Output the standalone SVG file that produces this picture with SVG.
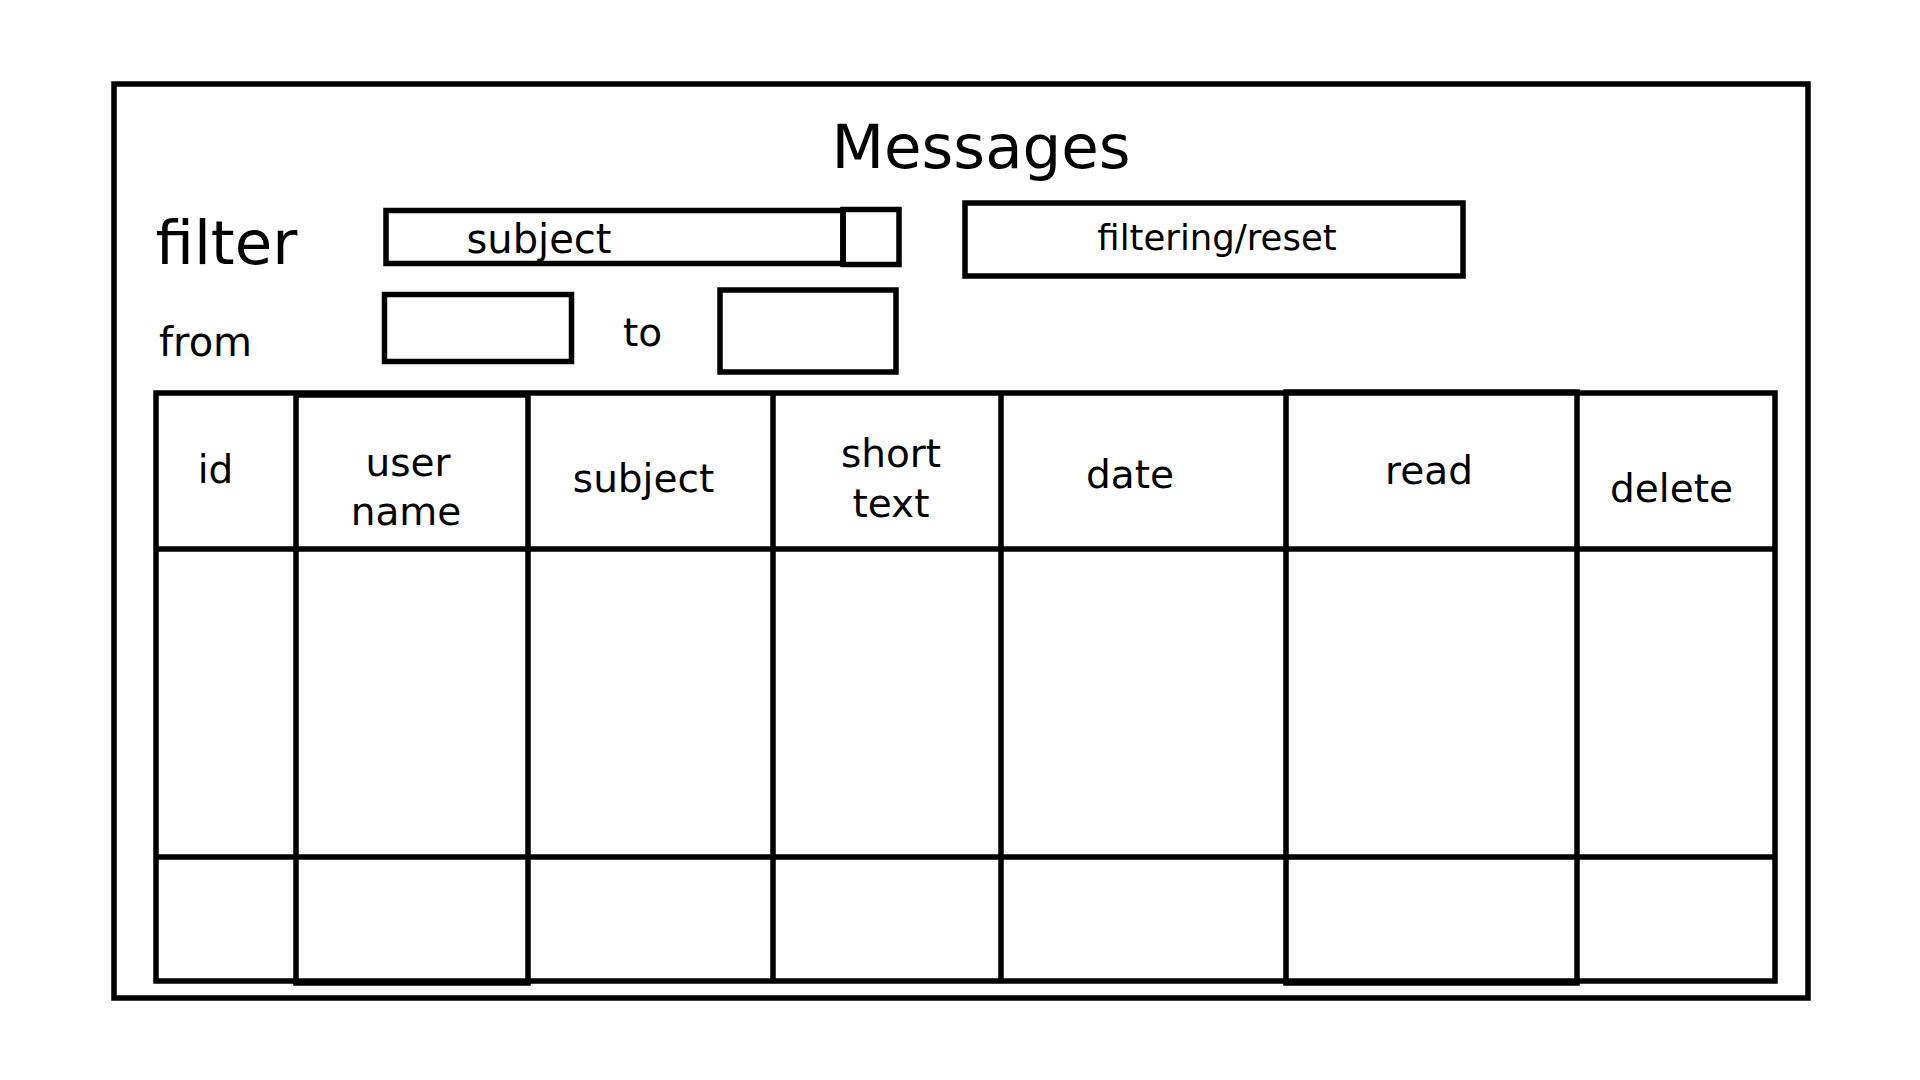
<svg xmlns="http://www.w3.org/2000/svg" width="1920" height="1080" viewBox="0 0 1920 1080">
<style>
.box{fill:none;stroke:#000;stroke-width:5.5}
.ln{stroke:#000;stroke-width:5.5;fill:none}
text{font-family:"DejaVu Sans","Liberation Sans",sans-serif;fill:#000}
.lbl{font-size:39px}
.c{text-anchor:middle}
</style>
<rect width="1920" height="1080" fill="#fff"/>
<g id="window">
<rect class="box" x="114" y="84" width="1694" height="914"/>
</g>
<g id="title">
<text x="981" y="168" class="c" font-size="61">Messages</text>
</g>
<g id="filter-label">
<text x="155.5" y="264" font-size="61">filter</text>
</g>
<g id="subject-input">
<rect class="box" x="386" y="210.5" width="457" height="53"/>
<rect class="box" x="843" y="209.5" width="56" height="55"/>
<text x="466.5" y="252.5" font-size="40">subject</text>
</g>
<g id="filter-button">
<rect class="box" x="965" y="203" width="498" height="73"/>
<text x="1217" y="250" class="c" font-size="35.5">filtering/reset</text>
</g>
<g id="from-field">
<text x="159" y="356" font-size="40">from</text>
<rect class="box" x="384.5" y="294.5" width="187" height="67"/>
</g>
<g id="to-field">
<text x="623" y="346" class="lbl">to</text>
<rect class="box" x="720" y="290" width="176" height="82"/>
</g>
<g id="table">
<rect class="box" x="156" y="393" width="1619" height="588"/>
<line class="ln" x1="156" y1="549" x2="1775" y2="549"/>
<line class="ln" x1="156" y1="857" x2="1775" y2="857"/>
<line class="ln" x1="773" y1="393" x2="773" y2="981"/>
<line class="ln" x1="1001" y1="393" x2="1001" y2="981"/>
<rect class="box" x="296" y="395" width="232" height="588"/>
<rect class="box" x="1286" y="392" width="291" height="591"/>
</g>
<g id="headers">
<text x="215.5" y="482.5" class="lbl c">id</text>
<text x="408" y="476" class="lbl c">user</text>
<text x="406" y="525" class="lbl c">name</text>
<text x="643.5" y="491.5" class="lbl c">subject</text>
<text x="891" y="466.5" class="lbl c">short</text>
<text x="891" y="516.5" class="lbl c">text</text>
<text x="1130" y="487.5" class="lbl c">date</text>
<text x="1429" y="484" class="lbl c">read</text>
<text x="1671.5" y="501.5" class="lbl c">delete</text>
</g>
</svg>
